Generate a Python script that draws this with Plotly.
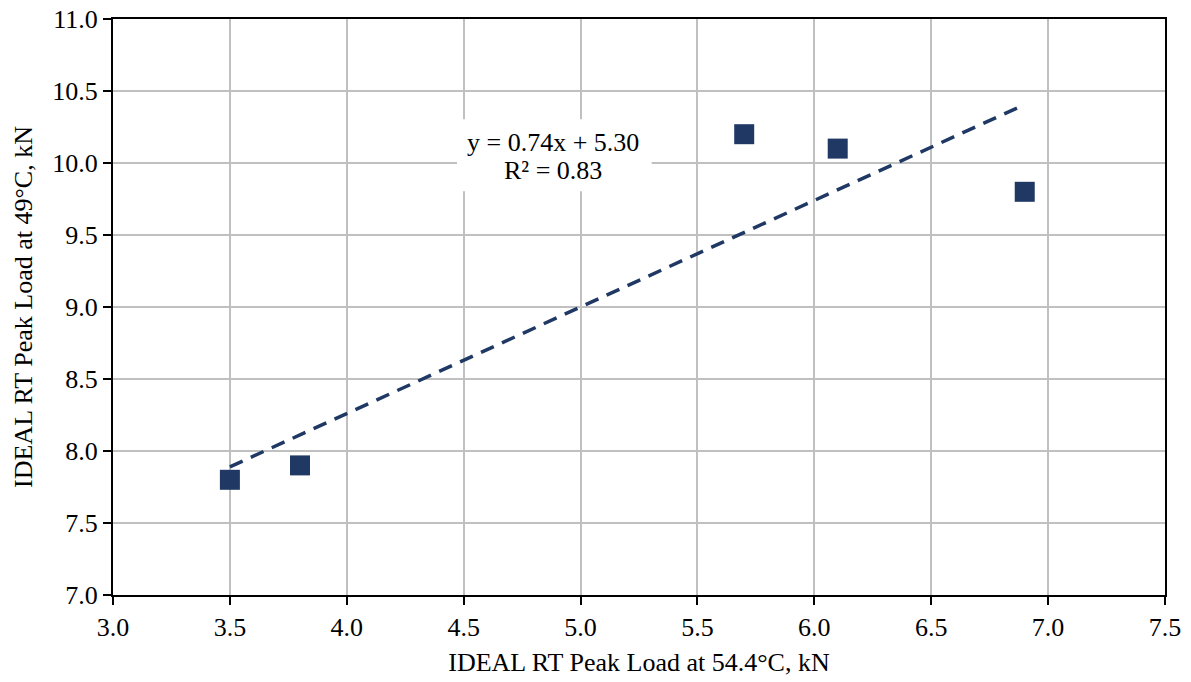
import numpy as np
import plotly.graph_objects as go

# Peak load measurements (kN)
load_54c = [3.5, 3.8, 5.7, 6.1, 6.9]
load_49c = [7.8, 7.9, 10.2, 10.1, 9.8]

# Linear trendline coefficients
slope = 0.74
intercept = 5.30
r_squared = 0.83

navy = "#1f3864"
font_family = "Liberation Serif, Times New Roman, serif"
font_size = 26

trend_x = np.array([min(load_54c), max(load_54c)])
trend_y = slope * trend_x + intercept

fig = go.Figure()
fig.add_trace(go.Scatter(
    x=trend_x, y=trend_y, mode="lines",
    line=dict(color=navy, width=3.5, dash="14px,9px"),
    hoverinfo="skip", showlegend=False,
))
fig.add_trace(go.Scatter(
    x=load_54c, y=load_49c, mode="markers",
    marker=dict(symbol="square", size=20, color=navy),
    showlegend=False,
))

# White backing for the equation label
fig.add_shape(
    type="rect", xref="paper", yref="paper",
    x0=0.327, x1=0.512, y0=0.701, y1=0.826,
    fillcolor="white", line=dict(width=0), layer="above",
)
label_font = dict(family=font_family, size=font_size, color="black")
fig.add_annotation(
    x=0.418, y=0.786, xref="paper", yref="paper",
    xanchor="center", yanchor="middle",
    text=f"y = {slope:.2f}x + {intercept:.2f}",
    showarrow=False, font=label_font,
)
fig.add_annotation(
    x=0.418, y=0.737, xref="paper", yref="paper",
    xanchor="center", yanchor="middle",
    text=f"R² = {r_squared:.2f}",
    showarrow=False, font=label_font,
)

axis_common = dict(
    showgrid=True, gridcolor="#c0c0c0", gridwidth=2,
    showline=True, linecolor="black", linewidth=2, mirror=True,
    ticks="outside", ticklen=8, tickcolor="black", tickwidth=2,
    tickfont=dict(family=font_family, size=font_size, color="black"),
    zeroline=False, automargin=False,
)

fig.update_xaxes(
    range=[3.0, 7.5], dtick=0.5, tickformat=".1f",
    title=dict(text="IDEAL RT Peak Load at 54.4°C, kN",
               font=dict(family=font_family, size=font_size, color="black"), standoff=12),
    **axis_common,
)
fig.update_yaxes(
    range=[7.0, 11.0], dtick=0.5, tickformat=".1f",
    title=dict(text="IDEAL RT Peak Load at 49°C, kN",
               font=dict(family=font_family, size=font_size, color="black"), standoff=12),
    **axis_common,
)

fig.update_layout(
    width=1191, height=682,
    margin=dict(l=113, r=26, t=19, b=87),
    plot_bgcolor="white", paper_bgcolor="white",
    font=dict(family=font_family),
)

fig.write_html("out.html")
